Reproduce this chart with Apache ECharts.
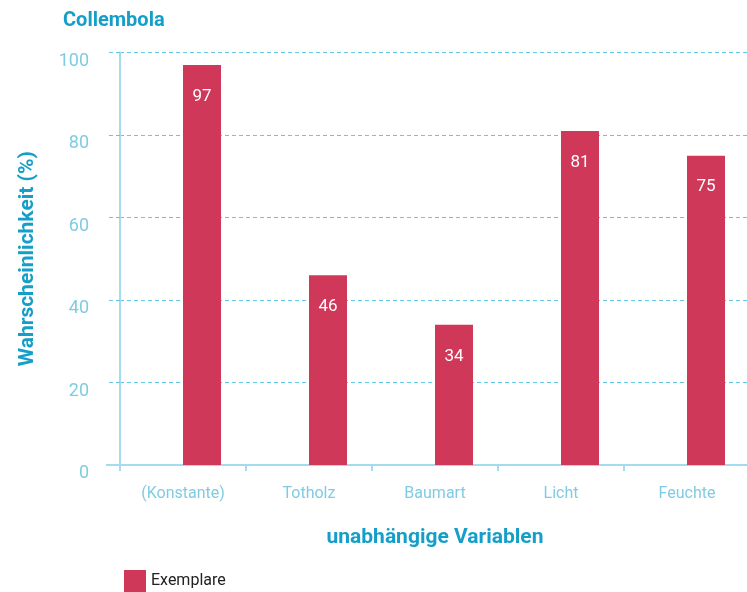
<!DOCTYPE html>
<html>
<head>
<meta charset="utf-8">
<script src="https://cdn.jsdelivr.net/npm/echarts@6/dist/echarts.min.js"></script>
<style>
html,body{margin:0;padding:0;background:#fff;}
#chart{width:747px;height:592px;}
</style>
</head>
<body>
<div id="chart"></div>
<script>
// Categories and values
const categories = ['(Konstante)', 'Totholz', 'Baumart', 'Licht', 'Feuchte'];
const exemplare = [97, 46, 34, 81, 75];
const yTicks = [0, 20, 40, 60, 80, 100];

const FONT = "'Roboto', sans-serif";
const BLUE_DARK = '#159fc8';
const BLUE_LABEL = '#80cbe3';
const BLUE_LINE = '#a3dbef';
const BLUE_DASH = '#62c6e8';
const BAR = '#cf3859';

const chart = echarts.init(document.getElementById('chart'));
chart.setOption({
  animation: false,
  backgroundColor: '#ffffff',
  title: {
    text: 'Collembola',
    left: 58, top: 6,
    textStyle: {color: BLUE_DARK, fontFamily: FONT, fontWeight: 'bold', fontSize: 20}
  },
  legend: {
    data: ['Exemplare'],
    left: 119, top: 565,
    itemWidth: 22, itemHeight: 22, itemGap: 10,
    icon: 'rect',
    textStyle: {color: '#222', fontFamily: FONT, fontSize: 16}
  },
  grid: {left: 120, top: 52.5, width: 630, height: 412.5, outerBoundsMode: 'none', containLabel: false},
  xAxis: {
    type: 'category',
    data: categories,
    name: 'unabhängige Variablen',
    nameLocation: 'middle',
    nameGap: 62,
    nameTextStyle: {color: BLUE_DARK, fontFamily: FONT, fontWeight: 'bold', fontSize: 21},
    axisLine: {lineStyle: {color: BLUE_LINE, width: 2}},
    axisTick: {show: true, length: 6, lineStyle: {color: BLUE_LINE, width: 2}},
    axisLabel: {color: BLUE_LABEL, fontFamily: FONT, fontSize: 16, margin: 21}
  },
  yAxis: [{
    type: 'value',
    min: 0, max: 100, interval: 20,
    name: 'Wahrscheinlichkeit (%)',
    nameLocation: 'middle',
    nameGap: 82,
    nameTextStyle: {color: BLUE_DARK, fontFamily: FONT, fontWeight: 'bold', fontSize: 21},
    axisLine: {show: true, lineStyle: {color: BLUE_LINE, width: 2}},
    axisTick: {show: true, length: 14, lineStyle: {color: BLUE_DASH, width: 1, type: [4, 3]}},
    // tick labels sit slightly below their grid lines
    axisLabel: {color: BLUE_LABEL, fontFamily: FONT, fontSize: 18, margin: 31,
      customValues: yTicks, verticalAlign: 'top', lineHeight: 17},
    splitLine: {show: true, lineStyle: {color: BLUE_DASH, width: 1, type: [4, 3]}}
  }, {
    // solid stub continuing the baseline left of the vertical axis
    type: 'value',
    min: 0, max: 100, interval: 20,
    position: 'left',
    axisLine: {show: false},
    axisLabel: {show: false},
    splitLine: {show: false},
    axisTick: {show: true, length: 14, customValues: [0], lineStyle: {color: BLUE_LINE, width: 2}}
  }],
  series: [{
    // empty companion slot: keeps the bars right of each category centre
    name: 'slot',
    type: 'bar',
    barWidth: 38,
    barGap: '0%',
    data: categories.map(() => '-'),
    silent: true
  }, {
    name: 'Exemplare',
    type: 'bar',
    barWidth: 38,
    barGap: '0%',
    data: exemplare,
    itemStyle: {color: BAR},
    label: {
      show: true,
      position: 'insideTop',
      distance: 23,
      color: '#ffffff',
      fontFamily: FONT,
      fontSize: 17
    }
  }]
});
</script>
</body>
</html>
